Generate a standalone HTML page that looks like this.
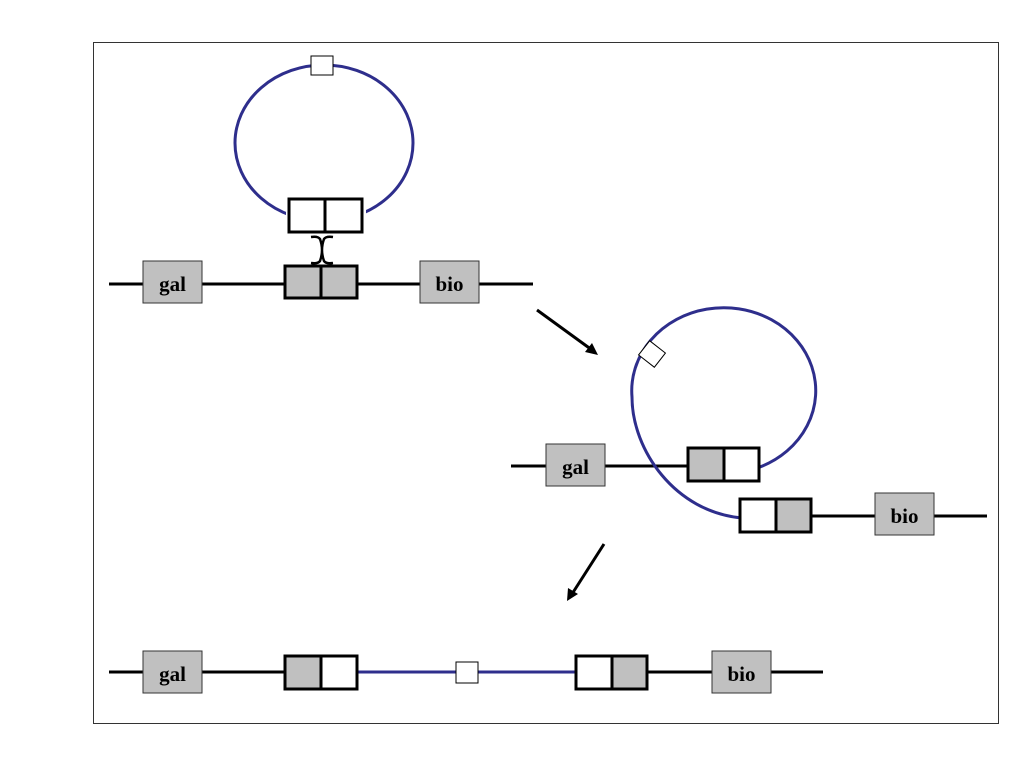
<!DOCTYPE html>
<html><head><meta charset="utf-8"><style>html,body{margin:0;padding:0;background:#fff}svg{display:block}</style></head>
<body>
<svg width="1024" height="768" viewBox="0 0 1024 768" xmlns="http://www.w3.org/2000/svg" font-family="Liberation Serif, serif" font-weight="bold">
<rect x="93.5" y="42.5" width="905" height="681" fill="none" stroke="#333" stroke-width="1"/>
<!-- top row -->
<line x1="109" y1="284" x2="533" y2="284" stroke="#000" stroke-width="3"/>
<ellipse cx="324" cy="143" rx="89" ry="78" fill="none" stroke="#2e2e8c" stroke-width="3"/>
<rect x="286" y="198" width="80" height="36" fill="#fff"/>
<rect x="311" y="56" width="22" height="19" fill="#fff" stroke="#000" stroke-width="1"/>
<rect x="289" y="199" width="73" height="33" fill="#fff" stroke="#000" stroke-width="3"/>
<line x1="325" y1="199" x2="325" y2="232" stroke="#000" stroke-width="3"/>
<path d="M311 237 Q318 236 320 239 Q324 250 320 261 Q318 264 311 263 M333 237 Q326 236 324 239 Q320 250 324 261 Q326 264 333 263" fill="none" stroke="#000" stroke-width="2.5"/>
<rect x="285" y="266" width="72" height="32" fill="#c0c0c0" stroke="#000" stroke-width="3"/>
<line x1="321" y1="266" x2="321" y2="298" stroke="#000" stroke-width="3"/>
<rect x="143" y="261" width="59" height="42" fill="#c0c0c0" stroke="#333" stroke-width="1"/>
<text x="172.5" y="291" font-size="21" text-anchor="middle">gal</text>
<rect x="420" y="261" width="59" height="42" fill="#c0c0c0" stroke="#333" stroke-width="1"/>
<text x="449.5" y="291" font-size="21" text-anchor="middle">bio</text>
<!-- arrows -->
<line x1="537" y1="310" x2="592" y2="350" stroke="#000" stroke-width="3"/>
<polygon points="598,355 585,352 592,343" fill="#000"/>
<line x1="604" y1="544" x2="572" y2="594" stroke="#000" stroke-width="3"/>
<polygon points="567,601 568,588 578,594" fill="#000"/>
<!-- middle -->
<line x1="511" y1="466" x2="688" y2="466" stroke="#000" stroke-width="3"/>
<path d="M760 467 A92 83 0 1 0 632 397 C632 450 675 512 742 518" fill="none" stroke="#2e2e8c" stroke-width="3"/>
<rect x="-10" y="-9" width="20" height="18" fill="#fff" stroke="#000" stroke-width="1" transform="translate(652,354) rotate(38)"/>
<rect x="546" y="444" width="59" height="42" fill="#c0c0c0" stroke="#333" stroke-width="1"/>
<text x="575.5" y="474" font-size="21" text-anchor="middle">gal</text>
<rect x="688" y="448" width="36" height="33" fill="#c0c0c0"/>
<rect x="724" y="448" width="35" height="33" fill="#fff"/>
<rect x="688" y="448" width="71" height="33" fill="none" stroke="#000" stroke-width="3"/>
<line x1="724" y1="448" x2="724" y2="481" stroke="#000" stroke-width="3"/>
<line x1="811" y1="516" x2="987" y2="516" stroke="#000" stroke-width="3"/>
<rect x="740" y="499" width="36" height="33" fill="#fff"/>
<rect x="776" y="499" width="35" height="33" fill="#c0c0c0"/>
<rect x="740" y="499" width="71" height="33" fill="none" stroke="#000" stroke-width="3"/>
<line x1="776" y1="499" x2="776" y2="532" stroke="#000" stroke-width="3"/>
<rect x="875" y="493" width="59" height="42" fill="#c0c0c0" stroke="#333" stroke-width="1"/>
<text x="904.5" y="523" font-size="21" text-anchor="middle">bio</text>
<!-- bottom -->
<line x1="109" y1="672" x2="285" y2="672" stroke="#000" stroke-width="3"/>
<line x1="647" y1="672" x2="823" y2="672" stroke="#000" stroke-width="3"/>
<line x1="357" y1="672" x2="576" y2="672" stroke="#2e2e8c" stroke-width="3"/>
<rect x="456" y="662" width="22" height="21" fill="#fff" stroke="#000" stroke-width="1"/>
<rect x="143" y="651" width="59" height="42" fill="#c0c0c0" stroke="#333" stroke-width="1"/>
<text x="172.5" y="681" font-size="21" text-anchor="middle">gal</text>
<rect x="285" y="656" width="36" height="33" fill="#c0c0c0"/>
<rect x="285" y="656" width="72" height="33" fill="none" stroke="#000" stroke-width="3"/>
<line x1="321" y1="656" x2="321" y2="689" stroke="#000" stroke-width="3"/>
<rect x="612" y="656" width="35" height="33" fill="#c0c0c0"/>
<rect x="576" y="656" width="71" height="33" fill="none" stroke="#000" stroke-width="3"/>
<line x1="612" y1="656" x2="612" y2="689" stroke="#000" stroke-width="3"/>
<rect x="712" y="651" width="59" height="42" fill="#c0c0c0" stroke="#333" stroke-width="1"/>
<text x="741.5" y="681" font-size="21" text-anchor="middle">bio</text>
</svg>
</body></html>
